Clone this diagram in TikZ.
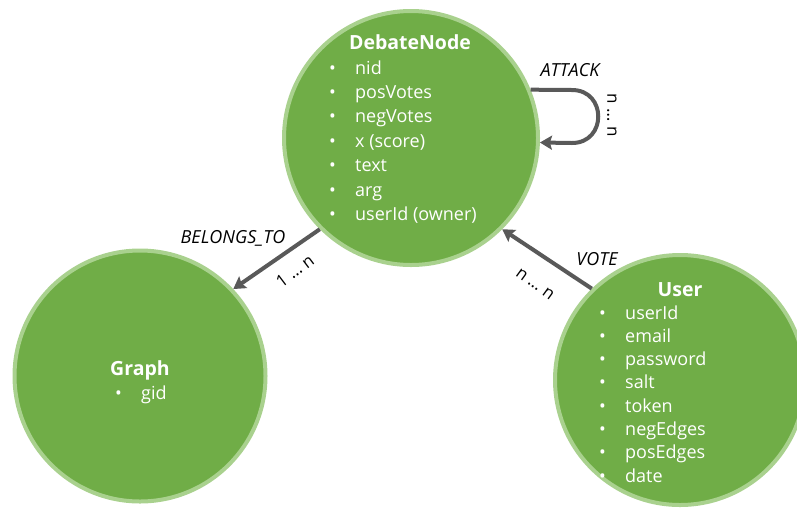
\documentclass[tikz,border=0pt]{standalone}
\usepackage{fontspec}
\setmainfont{Open Sans}
\usetikzlibrary{arrows.meta}
\definecolor{nodegreen}{HTML}{70AD47}
\definecolor{ringgreen}{HTML}{A9D18E}
\definecolor{arrowgrey}{HTML}{595959}
\tikzset{
  entity/.style={circle, fill=nodegreen, draw=ringgreen, line width=4pt, inner sep=0pt, minimum size=#1},
  ttl/.style={anchor=base, text=white, inner sep=0pt, font=\fontsize{19.5}{22}\selectfont\bfseries},
  item/.style={anchor=base west, text=white, inner sep=0pt, font=\fontsize{18}{20}\selectfont},
  rel/.style={draw=arrowgrey, line width=4pt, -{Stealth[length=12pt,width=14pt,inset=2pt]}},
  rellabel/.style={inner sep=0pt, font=\fontsize{18}{20}\selectfont\itshape, text=black},
  mult/.style={inner sep=0pt, font=\fontsize{17}{20}\selectfont, text=black}
}
\newcommand{\bul}[1]{\makebox[26pt][l]{•}#1}
\begin{document}
\begin{tikzpicture}[x=1pt,y=-1pt]
\useasboundingbox (0,0) rectangle (797,507);
% entities
\node[entity=254pt] (dn) at (411,138) {};
\node[entity=251pt] (gr) at (140,376) {};
\node[entity=250pt] (us) at (680,380) {};
% DebateNode text
\node[ttl] (dnt) at (410,49) {DebateNode};
\foreach \t [count=\i] in {nid,posVotes,negVotes,x (score),text,arg,userId (owner)}
  \node[item] (dn\i) at (329,{74+24.4*(\i-1)}) {\bul{\t}};
% Graph text
\node[ttl] (grt) at (140,375) {Graph};
\node[item] (gr1) at (115,399) {\bul{gid}};
% User text
\node[ttl] (ust) at (680,296) {User};
\foreach \t [count=\i] in {userId,email,password,salt,token,negEdges,posEdges,date}
  \node[item] (us\i) at (599,{319+23.3*(\i-1)}) {\bul{\t}};
% relations
\draw[rel] (dn.225) -- (gr.43);
\node[rellabel] (lb1) at (233,238) {BELONGS\_TO};
\node[mult, rotate=37] (m1) at (295,271) {1 … n};
\draw[rel] (us.134) -- (dn.315);
\node[rellabel] (lb2) at (597,259) {VOTE};
\node[mult, rotate=-36] (m2) at (535,284) {n … n};
\coordinate (a1) at (572,90);
\coordinate (a2) at (572,143);
\draw[rel] (dn.22) -- (a1) .. controls (607,90) and (607,143) .. (a2) -- (dn.-2);
\node[rellabel] (lb3) at (570,70) {ATTACK};
\node[mult, rotate=-90] (m3) at (612,115) {n … n};
\end{tikzpicture}
\end{document}
